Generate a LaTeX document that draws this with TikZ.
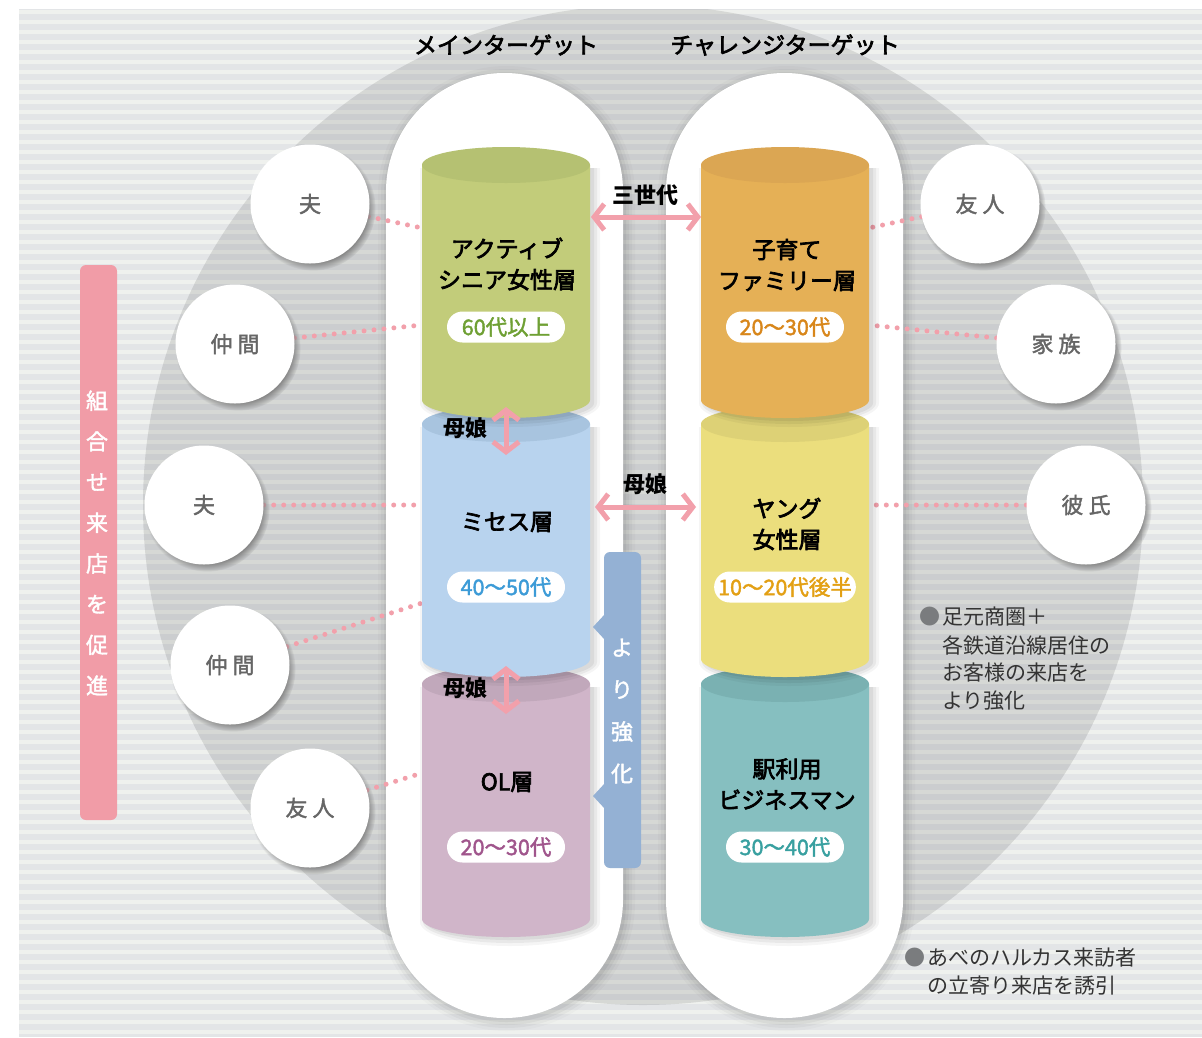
\documentclass[tikz,border=0pt]{standalone}
\usepackage{fontspec}
\setmainfont{Noto Sans CJK JP}
\newfontfamily\medfont[FakeBold=3]{Noto Sans CJK JP}
\newfontfamily\semifont[FakeBold=1.8]{Noto Sans CJK JP}
\usetikzlibrary{arrows.meta,shadows}
\definecolor{stripeD}{HTML}{E3E5E7}
\definecolor{stripeL}{HTML}{EFF1EE}
\definecolor{pinkA}{HTML}{F2A0AB}
\definecolor{pinkBar}{HTML}{F19CA7}
\definecolor{tabBlue}{HTML}{94B1D4}
\definecolor{txtgray}{HTML}{666666}
\definecolor{notegray}{HTML}{333333}
\definecolor{bulgray}{HTML}{7A7C7E}
\definecolor{gBody}{HTML}{C2CC7A}\definecolor{gCap}{HTML}{B5C172}
\definecolor{oBody}{HTML}{E5B056}\definecolor{oCap}{HTML}{DBA653}
\definecolor{bBody}{HTML}{B8D3EE}\definecolor{bCap}{HTML}{A8C4DF}
\definecolor{yBody}{HTML}{EBDE7D}\definecolor{yCap}{HTML}{DDD176}
\definecolor{pBody}{HTML}{D0B5C9}\definecolor{pCap}{HTML}{C1A8BB}
\definecolor{tBody}{HTML}{86BFC0}\definecolor{tCap}{HTML}{7AB1B2}
\definecolor{gTxt}{HTML}{6FA034}\definecolor{oTxt}{HTML}{D8861A}
\definecolor{bTxt}{HTML}{3C9BD7}\definecolor{yTxt}{HTML}{E3A014}
\definecolor{pTxt}{HTML}{A0558C}\definecolor{tTxt}{HTML}{38A0A0}
\pgfdeclarelayer{back}\pgfdeclarelayer{mid}
\pgfsetlayers{back,mid,main}
\newcommand\mycyl[5]{%
 \foreach \s/\o in {0/.06,3/.05,6/.04}{
 \fill[black,opacity=\o] (#1-84+4-\s,#2+3) -- (#1-84+4-\s,#3+3) arc[start angle=180,end angle=0,x radius=84+\s,y radius=18+\s] -- (#1+84+4+\s,#2+3) -- cycle;}
 \fill[#4] (#1-84,#2) -- (#1-84,#3) arc[start angle=180,end angle=0,x radius=84,y radius=18] -- (#1+84,#2) -- cycle;
 \fill[#5] (#1,#2) ellipse[x radius=84,y radius=18];
}
\newcommand\pillfill[6]{%
 \fill[#6] (#1-#5,#2+118.5) -- (#1-#5,#4-118.5) arc[start angle=180,end angle=0,radius=118.5+#5] -- (#3+#5,#2+118.5) arc[start angle=0,end angle=-180,radius=118.5+#5] -- cycle;}
\tikzset{
 person/.style={circle, fill=white, minimum size=119pt, inner sep=0pt, text=txtgray,
   font=\semifont\fontsize{22}{22}\selectfont,
   circular drop shadow={shadow xshift=3pt, shadow yshift=-4pt, shadow scale=1.05}},
 clab/.style={align=center, font=\medfont\fontsize{23}{31}\selectfont, text=black, inner sep=0pt},
 badge/.style={fill=white, rounded corners=15.5pt, minimum width=118pt, minimum height=31pt,
   inner xsep=8pt, inner ysep=0pt, font=\semifont\fontsize{21.5}{21.5}\selectfont},
 alab/.style={font=\bfseries\fontsize{22}{22}\selectfont, text=black, inner sep=1pt},
 title/.style={font=\medfont\fontsize{23}{23}\selectfont, text=black},
 pk/.style={draw=pinkA, line width=5pt,
   {Straight Barb[length=10pt,width=26pt]}-{Straight Barb[length=10pt,width=26pt]}},
 dots/.style={draw=pinkA, line width=5pt, line cap=round, dash pattern=on 0pt off 10pt},
 note/.style={anchor=west, inner sep=0pt, text=notegray, font=\fontsize{21}{21}\selectfont},
 bul/.style={anchor=west, inner sep=0pt, text=bulgray, font=\fontsize{21}{21}\selectfont},
}
\begin{document}
\begin{tikzpicture}[x=1pt,y=-1pt]
\useasboundingbox (0,0) rectangle (1202,1037);
\begin{pgfonlayer}{back}
 \fill[stripeD] (19,9) rectangle (1202,1037);
 \foreach \yy in {9,19,...,1029} \fill[stripeL] (19,\yy+1) rectangle (1202,\yy+5);
 \begin{scope}
  \clip (19,9) rectangle (1202,1037);
  \fill[black,opacity=.1] (643,505) circle[radius=500];
 \end{scope}
 \foreach \s/\o in {1/.05,4/.04,7/.03,10/.02}{
  \pillfill{386+2}{73+3}{623+2}{1018+3}{\s}{black,opacity=\o}
  \pillfill{666+2}{73+3}{903+2}{1018+3}{\s}{black,opacity=\o}
 }
 \pillfill{386}{73}{623}{1018}{0}{white}
 \pillfill{666}{73}{903}{1018}{0}{white}
\end{pgfonlayer}

% people circles
\node[person] (hL1) at (310,204) {夫};
\node[person] (nL1) at (235,344) {仲\kern5pt間};
\node[person] (hL2) at (204,505) {夫};
\node[person] (nL2) at (230,665) {仲\kern5pt間};
\node[person] (fL3) at (310,808) {友\kern5pt人};
\node[person] (fR1) at (980,204) {友\kern5pt人};
\node[person] (kR1) at (1056,344) {家\kern5pt族};
\node[person] (bR2) at (1086,505) {彼\kern5pt氏};

% cylinders (lowest first)
\mycyl{506}{684}{919}{pBody}{pCap}
\mycyl{506}{424}{659}{bBody}{bCap}
\mycyl{506}{165}{400}{gBody}{gCap}
\mycyl{785}{684}{919}{tBody}{tCap}
\mycyl{785}{424}{659}{yBody}{yCap}
\mycyl{785}{165}{400}{oBody}{oCap}

% anchor coordinates on cylinders
\coordinate (L1a) at (422,228);
\coordinate (L1b) at (422,325);
\coordinate (L2a) at (422,505);
\coordinate (L2b) at (422,603);
\coordinate (L3a) at (422,773);
\coordinate (R1a) at (869,228);
\coordinate (R1b) at (869,325);
\coordinate (R2a) at (869,505);

\begin{pgfonlayer}{mid}
 \draw[dots] (hL1) -- (L1a);
 \draw[dots] (nL1) -- (L1b);
 \draw[dots] (hL2) -- (L2a);
 \draw[dots] (nL2) -- (L2b);
 \draw[dots] (fL3) -- (L3a);
 \draw[dots] (fR1) -- (R1a);
 \draw[dots] (kR1) -- (R1b);
 \draw[dots] (bR2) -- (R2a);
\end{pgfonlayer}

% cylinder texts
\node[clab] (gl) at (507,264) {アクティブ\\シニア女性層};
\node[clab] (ol) at (787,265) {子育て\\ファミリー層};
\node[clab] (bl) at (507,522) {ミセス層};
\node[clab] (yl) at (787,524) {ヤング\\女性層};
\node[clab] (pl) at (507,782) {OL層};
\node[clab] (tl) at (787,784) {駅利用\\ビジネスマン};

\node[badge, text=gTxt] (gb) at (506,327) {60代以上};
\node[badge, text=oTxt] (ob) at (785,327) {20～30代};
\node[badge, text=bTxt] (bb) at (506,587) {40～50代};
\node[badge, text=yTxt, inner xsep=4pt] (yb) at (785,587) {10～20代後半};
\node[badge, text=pTxt] (pb) at (506,847) {20～30代};
\node[badge, text=tTxt] (tb) at (785,847) {30～40代};

% arrows
\coordinate (g1R) at (591,217);
\coordinate (o1L) at (701,217);
\coordinate (b2R) at (595,507);
\coordinate (y2L) at (696,507);
\coordinate (v1t) at (506,407);
\coordinate (v1b) at (506,455);
\coordinate (v2t) at (506,666);
\coordinate (v2b) at (506,714);
\draw[pk] (g1R) -- (o1L);
\draw[pk] (b2R) -- (y2L);
\draw[pk] (v1t) -- (v1b);
\draw[pk] (v2t) -- (v2b);
\node[alab] (a1) at (645,195) {三世代};
\node[alab] (a2) at (645,484) {母娘};
\node[alab] (a3) at (465,428) {母娘};
\node[alab] (a4) at (465,688) {母娘};

% blue tab
\fill[tabBlue, rounded corners=6pt] (604,552) rectangle (641,868);
\fill[tabBlue] (605,614) -- (593,627) -- (605,640) -- cycle;
\fill[tabBlue] (605,783) -- (593,796) -- (605,809) -- cycle;
\node[align=center, text=white, inner sep=0pt, font=\semifont\fontsize{22}{42}\selectfont] (tabt) at (622,711) {よ\\り\\強\\化};

% pink bar
\fill[pinkBar, rounded corners=6pt] (80,265) rectangle (117,820);
\node[align=center, text=white, inner sep=0pt, font=\semifont\fontsize{22}{40.7}\selectfont] (bart) at (97,543) {組\\合\\せ\\来\\店\\を\\促\\進};

% titles
\node[title] (t1) at (506,45) {メインターゲット};
\node[title] (t2) at (785,45) {チャレンジターゲット};

% notes
\node[bul] (n1b) at (919,617) {●};
\node[note] (n1a) at (942,617) {足元商圏＋};
\node[note] (n1c) at (942,645) {各鉄道沿線居住の};
\node[note] (n1d) at (942,673) {お客様の来店を};
\node[note] (n1e) at (942,701) {より強化};
\node[bul] (n2b) at (904,958) {●};
\node[note] (n2a) at (927,958) {あべのハルカス来訪者};
\node[note] (n2c) at (927,986) {の立寄り来店を誘引};
\end{tikzpicture}
\end{document}
